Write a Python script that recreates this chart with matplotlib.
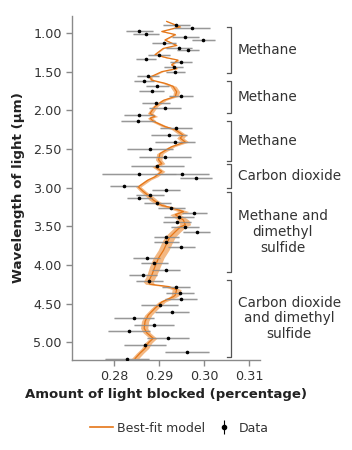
import numpy as np
import matplotlib
matplotlib.use("Agg")
import matplotlib.pyplot as plt
from matplotlib.lines import Line2D
from matplotlib.legend_handler import HandlerTuple

# ------------------
# Data
# ------------------

# observed points: wavelength (um), light blocked (%), half error
data_wl = [0.90, 0.93, 0.97, 1.01, 1.05, 1.09, 1.13, 1.19, 1.22, 1.28, 1.33, 1.38,
           1.44, 1.50, 1.56, 1.62, 1.68, 1.75, 1.82, 1.90, 1.97, 2.06, 2.14, 2.23,
           2.32, 2.41, 2.50, 2.61, 2.72, 2.83, 2.83, 2.88, 2.98, 3.03, 3.09, 3.14,
           3.20, 3.26, 3.33, 3.38, 3.44, 3.51, 3.57, 3.64, 3.70, 3.77, 3.91, 3.98,
           4.06, 4.13, 4.21, 4.29, 4.36, 4.44, 4.52, 4.61, 4.69, 4.78, 4.86, 4.95,
           5.04, 5.13, 5.22]
data_val = [0.2938, 0.2973, 0.2856, 0.2871, 0.2958, 0.2998, 0.2911, 0.2944, 0.2964,
            0.2900, 0.2871, 0.2949, 0.2933, 0.2936, 0.2876, 0.2867, 0.2896, 0.2884,
            0.2949, 0.2893, 0.2913, 0.2856, 0.2853, 0.2938, 0.2922, 0.2936, 0.2880,
            0.2913, 0.2896, 0.2856, 0.2951, 0.2982, 0.2822, 0.2916, 0.2880, 0.2856,
            0.2896, 0.2927, 0.2978, 0.2944, 0.2940, 0.2958, 0.2984, 0.2916, 0.2916,
            0.2949, 0.2873, 0.2889, 0.2916, 0.2864, 0.2878, 0.2938, 0.2947, 0.2949,
            0.2902, 0.2929, 0.2844, 0.2889, 0.2833, 0.2920, 0.2869, 0.2962, 0.2829]
data_err = [0.0030, 0.0039, 0.0030, 0.0029, 0.0030, 0.0025, 0.0026, 0.0028, 0.0024,
            0.0024, 0.0022, 0.0024, 0.0021, 0.0021, 0.0024, 0.0022, 0.0025, 0.0028,
            0.0026, 0.0031, 0.0036, 0.0033, 0.0037, 0.0036, 0.0040, 0.0044, 0.0051,
            0.0057, 0.0059, 0.0082, 0.0059, 0.0036, 0.0031, 0.0031, 0.0031, 0.0028,
            0.0030, 0.0030, 0.0028, 0.0033, 0.0031, 0.0031, 0.0030, 0.0028, 0.0028,
            0.0030, 0.0030, 0.0030, 0.0031, 0.0031, 0.0030, 0.0031, 0.0031, 0.0035,
            0.0041, 0.0037, 0.0044, 0.0044, 0.0047, 0.0046, 0.0047, 0.0048, 0.0048]

# best-fit model
model_wl = [0.85, 0.92, 0.98, 1.02, 1.09, 1.16, 1.20, 1.28, 1.32, 1.35, 1.41, 1.46,
            1.50, 1.57, 1.61, 1.65, 1.69, 1.76, 1.82, 1.87, 1.95, 2.04, 2.08, 2.10,
            2.14, 2.21, 2.25, 2.32, 2.36, 2.41, 2.47, 2.56, 2.64, 2.69, 2.73, 2.79,
            2.86, 2.90, 2.99, 3.05, 3.12, 3.16, 3.23, 3.26, 3.31, 3.35, 3.42, 3.48,
            3.51, 3.57, 3.64, 3.72, 3.81, 3.91, 4.02, 4.13, 4.22, 4.25, 4.28, 4.32,
            4.39, 4.41, 4.48, 4.56, 4.65, 4.73, 4.82, 4.88, 4.95, 5.01, 5.08, 5.14,
            5.21]
model_val = [0.2917, 0.2947, 0.2906, 0.2936, 0.2913, 0.2939, 0.2909, 0.2891, 0.2917,
             0.2942, 0.2928, 0.2939, 0.2906, 0.2880, 0.2884, 0.2913, 0.2931, 0.2939,
             0.2936, 0.2910, 0.2891, 0.2880, 0.2891, 0.2880, 0.2887, 0.2913, 0.2936,
             0.2953, 0.2947, 0.2958, 0.2928, 0.2902, 0.2899, 0.2906, 0.2891, 0.2906,
             0.2891, 0.2876, 0.2854, 0.2865, 0.2880, 0.2887, 0.2906, 0.2928, 0.2954,
             0.2936, 0.2954, 0.2958, 0.2947, 0.2936, 0.2924, 0.2917, 0.2910, 0.2899,
             0.2891, 0.2884, 0.2876, 0.2880, 0.2921, 0.2939, 0.2936, 0.2932, 0.2906,
             0.2891, 0.2876, 0.2869, 0.2867, 0.2873, 0.2887, 0.2876, 0.2869, 0.2858,
             0.2847]
model_band = [0.0002, 0.0002, 0.0002, 0.0002, 0.0002, 0.0002, 0.0002, 0.0002, 0.0003,
              0.0003, 0.0003, 0.0003, 0.0003, 0.0004, 0.0004, 0.0006, 0.0007, 0.0007,
              0.0006, 0.0006, 0.0006, 0.0006, 0.0006, 0.0006, 0.0006, 0.0007, 0.0008,
              0.0008, 0.0008, 0.0008, 0.0007, 0.0007, 0.0007, 0.0007, 0.0007, 0.0007,
              0.0006, 0.0006, 0.0006, 0.0007, 0.0008, 0.0009, 0.0010, 0.0011, 0.0012,
              0.0012, 0.0012, 0.0012, 0.0012, 0.0012, 0.0012, 0.0012, 0.0012, 0.0012,
              0.0012, 0.0011, 0.0011, 0.0010, 0.0010, 0.0010, 0.0009, 0.0009, 0.0008,
              0.0008, 0.0008, 0.0008, 0.0008, 0.0008, 0.0008, 0.0008, 0.0008, 0.0008,
              0.0008]

# molecule brackets (wavelength ranges)
bracket_lo = [0.92, 1.62, 2.14, 2.70, 3.06, 4.19]
bracket_hi = [1.52, 2.04, 2.66, 3.00, 4.09, 5.19]
bracket_labels = ["Methane", "Methane", "Methane", "Carbon dioxide",
                  "Methane and\ndimethyl\nsulfide",
                  "Carbon dioxide\nand dimethyl\nsulfide"]

y_ticks = [1.0, 1.5, 2.0, 2.5, 3.0, 3.5, 4.0, 4.5, 5.0]
x_ticks = [0.28, 0.29, 0.30, 0.31]

ORANGE = "#e57617"
BAND = "#ee9a4f"
TXT = "#333333"
AXC = "#8a8a8a"

plt.rcParams['font.family'] = ['DejaVu Sans']

fig = plt.figure(figsize=(3.52, 4.5), dpi=100)
ax = fig.add_axes([0.2045, 0.2, 0.5345, 0.7644])

mw = np.array(model_wl)
mv = np.array(model_val)
mb = np.array(model_band)
ax.fill_betweenx(mw, mv - mb, mv + mb, color=BAND, alpha=0.7, lw=0, zorder=2)
ax.plot(mv, mw, color=ORANGE, lw=0.9, zorder=3)

dv = np.array(data_val)
de = np.array(data_err)
dw = np.array(data_wl)
ax.hlines(dw, dv - de, dv + de, color="#dadada", lw=1.8, zorder=1)
ax.hlines(dw, dv - de, dv + de, color="#8c8c8c", lw=0.6, zorder=4)
ax.plot(dv, dw, "o", color="black", ms=1.6, zorder=5)

ax.set_xlim(0.2707, 0.3124)
ax.set_ylim(5.23, 0.78)
ax.set_yticks(y_ticks)
ax.set_yticklabels(["%.2f" % t for t in y_ticks])
ax.set_xticks(x_ticks)
ax.set_xticklabels(["%.2f" % t for t in x_ticks])
for s in ["top", "right"]:
    ax.spines[s].set_visible(False)
for s in ["left", "bottom"]:
    ax.spines[s].set_color(AXC)
    ax.spines[s].set_linewidth(1.0)
ax.tick_params(colors=AXC, labelcolor=TXT, labelsize=9.2, length=4, width=1)

ax.set_ylabel("Wavelength of light (\u00b5m)", fontsize=9.7, fontweight="bold",
              color="#222222", labelpad=6)
ax.set_xlabel("Amount of light blocked (percentage)", fontsize=9.5,
              fontweight="bold", color="#222222", labelpad=3)

# brackets
trans = ax.get_yaxis_transform()
bx = 0.846
for lo, hi, lab in zip(bracket_lo, bracket_hi, bracket_labels):
    ax.plot([bx - 0.02, bx, bx, bx - 0.02], [lo, lo, hi, hi], transform=trans,
            color="#555555", lw=0.9, clip_on=False)
    ax.text(bx + 0.035, (lo + hi) / 2, lab, transform=trans, ha="left",
            va="center", multialignment="center", fontsize=9.8, color=TXT,
            linespacing=1.15)

data_handle = (Line2D([], [], color="black", marker="|", ms=10, mew=0.8, ls=""),
               Line2D([], [], color="black", marker="o", ms=3, ls=""))
handles = [Line2D([], [], color=ORANGE, lw=1.2), data_handle]
leg = fig.legend(handles, ["Best-fit model", "Data"], loc="center",
                 bbox_to_anchor=(0.51, 1 - 428 / 450), ncol=2, frameon=False,
                 fontsize=9, handlelength=1.8, columnspacing=0.6,
                 handletextpad=0.3,
                 handler_map={tuple: HandlerTuple(ndivide=1)})
for t in leg.get_texts():
    t.set_color(TXT)

fig.savefig("out.png", dpi=100)
